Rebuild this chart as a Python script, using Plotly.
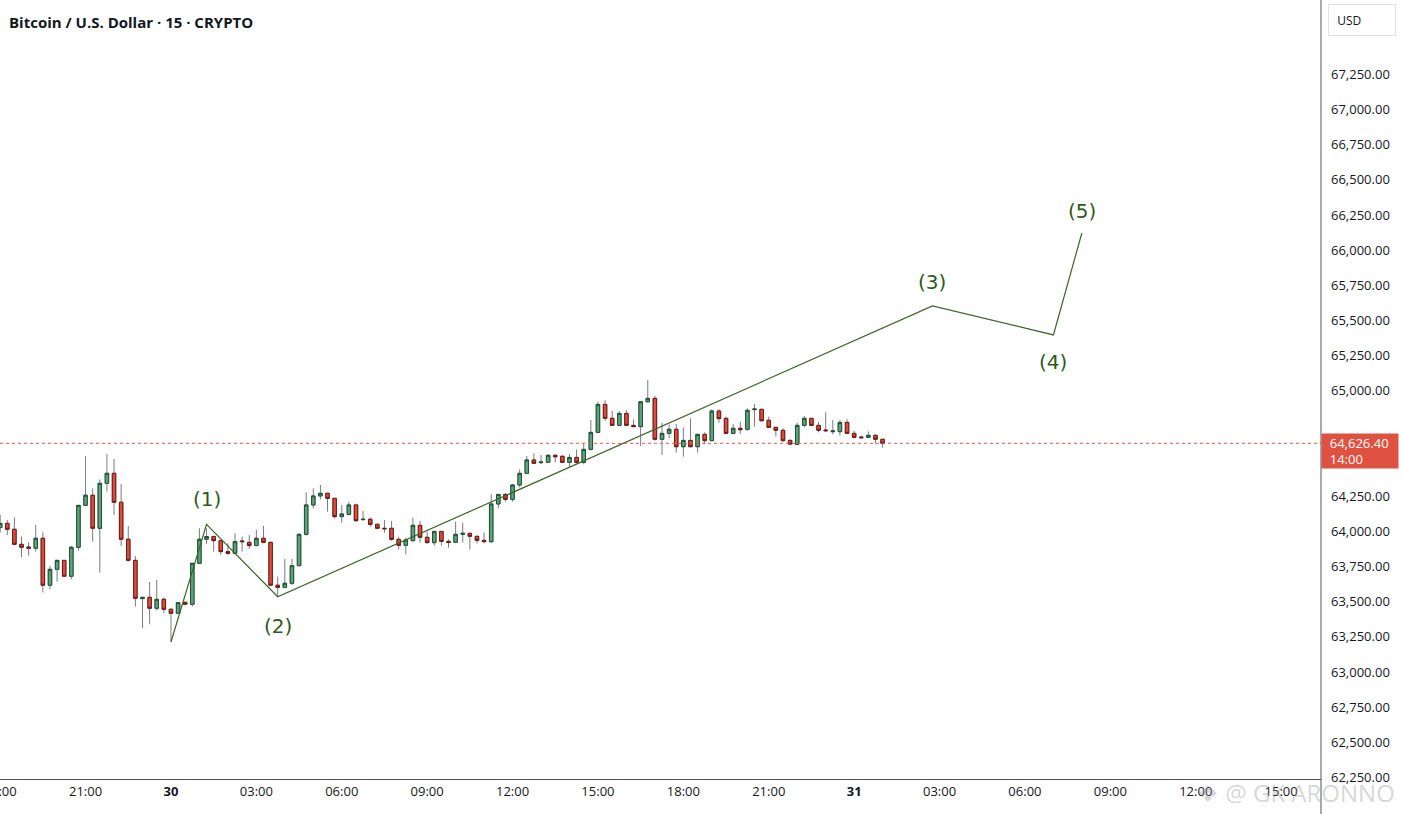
import pandas as pd
import plotly.graph_objects as go

# BTCUSD 15m candles, 29 18:00 -> 31 01:00
start_time = "2024-07-29 18:00"
opens = [64027, 64057, 64015, 63908, 63889, 63880, 63951, 63617, 63730, 63794,
         63681, 63887, 64185, 64257, 64022, 64342, 64413, 64207, 63944, 63794,
         63522, 63531, 63453, 63517, 63446, 63418, 63496, 63482, 63773, 63944,
         63963, 63934, 63856, 63844, 63932, 63922, 63899, 63951, 63922, 63617,
         63602, 63631, 63756, 63979, 64188, 64252, 64271, 64235, 64105, 64121,
         64188, 64083, 64086, 64050, 64022, 64022, 63943, 63901, 63934, 64043,
         63958, 63920, 64000, 63929, 63922, 63979, 63986, 63965, 63936, 63927,
         64195, 64263, 64228, 64330, 64413, 64508, 64489, 64491, 64541, 64534,
         64491, 64526, 64491, 64583, 64704, 64903, 64804, 64754, 64839, 64754,
         64745, 64922, 64946, 64655, 64697, 64726, 64602, 64647, 64602, 64690,
         64645, 64856, 64804, 64697, 64733, 64726, 64866, 64868, 64790, 64740,
         64719, 64647, 64619, 64754, 64804, 64754, 64721, 64709, 64709, 64775,
         64697, 64671, 64669, 64683, 64655]
highs = [64117, 64081, 64100, 63963, 63922, 64046, 63994, 63754, 63794, 63794,
         63896, 64185, 64536, 64306, 64370, 64550, 64515, 64337, 64039, 63825,
         63531, 63640, 63655, 63531, 63453, 63493, 63496, 63773, 64022, 64022,
         63970, 63939, 63915, 63986, 63963, 63974, 64010, 64039, 63927, 63678,
         63804, 63804, 63986, 64278, 64306, 64330, 64271, 64235, 64188, 64211,
         64188, 64145, 64100, 64057, 64081, 64074, 63962, 63955, 64097, 64074,
         64000, 64000, 64000, 63943, 64069, 64062, 63991, 63969, 63991, 64266,
         64263, 64271, 64337, 64441, 64536, 64555, 64543, 64548, 64548, 64541,
         64550, 64583, 64626, 64792, 64922, 64934, 64856, 64856, 64863, 64797,
         64922, 65077, 64963, 64773, 64761, 64764, 64740, 64804, 64690, 64704,
         64868, 64868, 64816, 64764, 64780, 64875, 64906, 64868, 64816, 64740,
         64733, 64655, 64773, 64821, 64804, 64778, 64847, 64792, 64792, 64797,
         64716, 64678, 64711, 64690, 64655]
lows = [63991, 63974, 63901, 63816, 63828, 63856, 63565, 63588, 63643, 63681,
        63659, 63863, 64185, 63927, 63707, 64283, 64117, 63896, 63785, 63465,
        63311, 63339, 63437, 63418, 63216, 63418, 63482, 63465, 63773, 63911,
        63856, 63832, 63832, 63844, 63856, 63875, 63899, 63915, 63617, 63536,
        63602, 63619, 63756, 63969, 64164, 64228, 64140, 64093, 64062, 64121,
        64069, 64083, 64033, 64019, 63991, 63934, 63872, 63837, 63927, 63920,
        63915, 63898, 63898, 63884, 63922, 63920, 63872, 63915, 63915, 63915,
        64164, 64211, 64211, 64313, 64413, 64479, 64479, 64491, 64491, 64489,
        64455, 64484, 64477, 64574, 64704, 64787, 64754, 64754, 64754, 64740,
        64607, 64915, 64645, 64543, 64662, 64560, 64531, 64602, 64560, 64619,
        64645, 64773, 64693, 64697, 64693, 64716, 64745, 64780, 64740, 64674,
        64638, 64612, 64619, 64740, 64754, 64704, 64709, 64690, 64681, 64697,
        64662, 64666, 64669, 64626, 64595]
closes = [64057, 64015, 63908, 63887, 63880, 63951, 63617, 63730, 63794, 63681,
          63887, 64185, 64257, 64022, 64342, 64413, 64207, 63944, 63794, 63524,
          63531, 63453, 63517, 63446, 63418, 63493, 63482, 63773, 63944, 63963,
          63934, 63856, 63844, 63927, 63927, 63899, 63951, 63922, 63617, 63602,
          63631, 63756, 63979, 64188, 64252, 64271, 64235, 64105, 64124, 64188,
          64076, 64086, 64050, 64022, 64019, 63943, 63901, 63939, 64043, 63958,
          63920, 64000, 63929, 63922, 63979, 63986, 63965, 63936, 63927, 64195,
          64263, 64228, 64330, 64413, 64508, 64484, 64493, 64541, 64531, 64491,
          64526, 64491, 64583, 64704, 64903, 64804, 64754, 64839, 64754, 64745,
          64922, 64946, 64655, 64697, 64726, 64602, 64647, 64602, 64690, 64645,
          64856, 64802, 64697, 64733, 64723, 64861, 64870, 64787, 64740, 64719,
          64645, 64621, 64754, 64804, 64754, 64719, 64716, 64714, 64775, 64697,
          64669, 64666, 64683, 64655, 64626.4]

last_price = 64626.40
countdown = "14:00"

# elliott wave projection drawn on the chart
wave_times = ["2024-07-30 00:00", "2024-07-30 01:15", "2024-07-30 03:45",
              "2024-07-31 02:45", "2024-07-31 07:00", "2024-07-31 08:00"]
wave_prices = [63213, 64050, 63535, 65603, 65397, 66122]
wave_labels = ["", "(1)", "(2)", "(3)", "(4)", "(5)"]
label_shift = [0, 25, -29, 24, -27, 22]

# x axis ticks every 3h
tick_times = pd.date_range("2024-07-29 18:00", "2024-07-31 15:00", freq="3h")
tick_text = []
for t in tick_times:
    if t.hour == 0:
        tick_text.append("<b>%d</b>" % t.day)
    else:
        tick_text.append(t.strftime("%H:%M"))

# price scale; the one under the last-price tag is hidden like on TV
price_ticks = [p for p in range(62250, 67251, 250) if abs(p - last_price) > 150]

times = pd.date_range(start_time, periods=len(opens), freq="15min")
body_hi = [max(o, c) for o, c in zip(opens, closes)]
body_lo = [min(o, c) for o, c in zip(opens, closes)]

fig = go.Figure()

# wicks (grey)
fig.add_trace(go.Candlestick(
    x=times, open=opens, high=highs, low=lows, close=closes,
    increasing=dict(line=dict(color="#787b86", width=1), fillcolor="#787b86"),
    decreasing=dict(line=dict(color="#787b86", width=1), fillcolor="#787b86"),
    hoverinfo="skip", showlegend=False))

# bodies with dark border
fig.add_trace(go.Candlestick(
    x=times, open=opens, high=body_hi, low=body_lo, close=closes,
    increasing=dict(line=dict(color="#1d5233", width=1), fillcolor="#5ea27c"),
    decreasing=dict(line=dict(color="#6e1a12", width=1), fillcolor="#dd4b3c"),
    showlegend=False))

fig.add_trace(go.Scatter(
    x=wave_times, y=wave_prices, mode="lines",
    line=dict(color="#3b6527", width=1.2), hoverinfo="skip", showlegend=False))

for t, p, lab, s in zip(wave_times, wave_prices, wave_labels, label_shift):
    if lab:
        fig.add_annotation(x=t, y=p, text=lab, showarrow=False, yshift=s,
                           font=dict(family="DejaVu Sans", size=20, color="#2d5a1b"))

# last price dotted line
fig.add_shape(type="line", xref="paper", x0=0, x1=1, y0=last_price, y1=last_price,
              line=dict(color="#ef5350", width=1, dash="dot"))

# right axis border running down to bottom
fig.add_shape(type="line", xref="paper", yref="paper", x0=1, x1=1, y0=-0.05, y1=1,
              line=dict(color="#50535e", width=1))

fig.add_annotation(xref="paper", x=1, xanchor="left", y=last_price, yshift=-8,
                   text="&nbsp;&nbsp;%s<br>&nbsp;&nbsp;%s" % (f"{last_price:,.2f}", countdown),
                   align="left", showarrow=False, bgcolor="#df5141",
                   width=74, height=32, borderpad=1,
                   font=dict(family="Open Sans", size=13, color="white"))

fig.add_annotation(xref="paper", yref="paper", x=1, xshift=7, xanchor="left",
                   y=1, yshift=-4, yanchor="top", text="&nbsp;&nbsp;USD", align="left",
                   showarrow=False, bgcolor="white", bordercolor="#e0e3eb",
                   borderwidth=1, borderpad=2, width=62, height=26,
                   font=dict(family="Open Sans", size=12, color="#131722"))

fig.add_annotation(xref="paper", yref="paper", x=0, xshift=7, xanchor="left",
                   y=1, yshift=-10, yanchor="top", showarrow=False,
                   text="<b>Bitcoin / U.S. Dollar · 15 · CRYPTO</b>",
                   font=dict(family="Open Sans", size=15, color="#131722"))

# watermark
fig.add_annotation(xref="paper", yref="paper", x=1, xshift=76, xanchor="right",
                   y=0, yshift=-13, yanchor="middle", showarrow=False,
                   text="❖ @ GK&nbsp;ARONNO",
                   font=dict(family="Open Sans", size=24, color="rgba(150,150,150,0.4)"))

fig.update_layout(
    width=1402, height=814,
    margin=dict(l=0, r=81, t=0, b=35),
    plot_bgcolor="white", paper_bgcolor="white",
    font=dict(family="Open Sans", size=13, color="#131722"),
    hovermode=False,
    xaxis=dict(
        type="date",
        range=["2024-07-29 17:59:40", "2024-07-31 16:24"],
        rangeslider=dict(visible=False),
        tickvals=tick_times, ticktext=tick_text,
        showgrid=False, zeroline=False, automargin=False,
        showline=True, linecolor="#50535e", linewidth=1,
        ticks="", ticklabeloverflow="allow",
        tickfont=dict(size=13, color="#131722"),
    ),
    yaxis=dict(
        side="right",
        range=[62239, 67779],
        tickvals=price_ticks, tickformat=",.2f",
        showgrid=False, zeroline=False, automargin=False,
        showline=False, ticks="", ticklabelstandoff=9,
        tickfont=dict(size=13, color="#131722"),
    ),
)

# page body has an 8px margin by default, drop it so the chart fills the window
fig.write_html("out.html", config={"displayModeBar": False},
               post_script="document.body.style.margin='0';")
